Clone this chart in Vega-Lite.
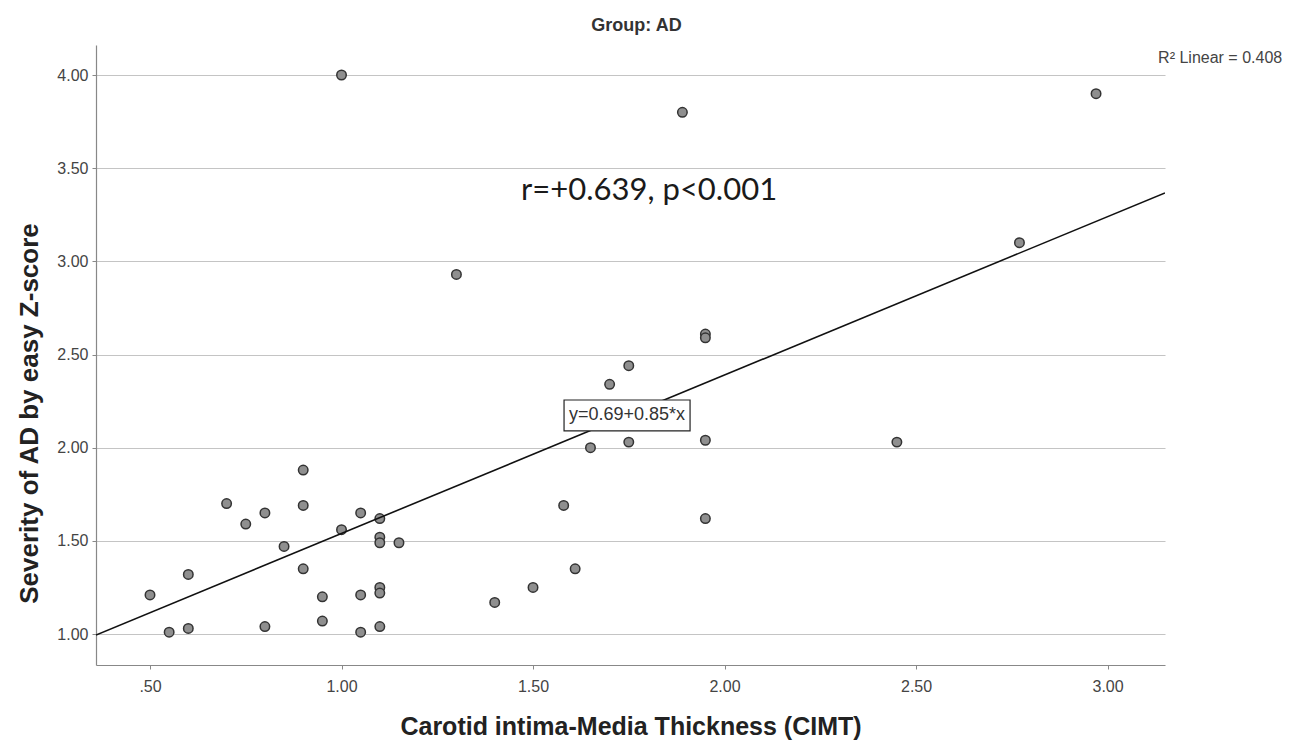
{
  "$schema": "https://vega.github.io/schema/vega-lite/v6.json",
  "width": 1069,
  "height": 620,
  "autosize": {"type": "none"},
  "padding": {"left": 96, "top": 45, "right": 127, "bottom": 77},
  "background": "white",
  "config": {
    "view": {"stroke": null},
    "font": "Liberation Sans"
  },
  "title": {
    "text": "Group: AD",
    "font": "Liberation Sans",
    "fontSize": 18,
    "fontWeight": "bold",
    "color": "#333333",
    "anchor": "middle",
    "dx": 6,
    "offset": 10
  },
  "datasets": {
    "points": [
      {"cimt": 1.00, "severity": 4.00},
      {"cimt": 2.97, "severity": 3.90},
      {"cimt": 1.89, "severity": 3.80},
      {"cimt": 2.77, "severity": 3.10},
      {"cimt": 1.30, "severity": 2.93},
      {"cimt": 1.95, "severity": 2.61},
      {"cimt": 1.95, "severity": 2.59},
      {"cimt": 1.75, "severity": 2.44},
      {"cimt": 1.70, "severity": 2.34},
      {"cimt": 1.65, "severity": 2.00},
      {"cimt": 1.75, "severity": 2.03},
      {"cimt": 1.95, "severity": 2.04},
      {"cimt": 2.45, "severity": 2.03},
      {"cimt": 1.95, "severity": 1.62},
      {"cimt": 1.58, "severity": 1.69},
      {"cimt": 1.61, "severity": 1.35},
      {"cimt": 1.50, "severity": 1.25},
      {"cimt": 1.40, "severity": 1.17},
      {"cimt": 0.90, "severity": 1.88},
      {"cimt": 0.70, "severity": 1.70},
      {"cimt": 0.90, "severity": 1.69},
      {"cimt": 0.80, "severity": 1.65},
      {"cimt": 1.05, "severity": 1.65},
      {"cimt": 0.75, "severity": 1.59},
      {"cimt": 1.10, "severity": 1.62},
      {"cimt": 1.00, "severity": 1.56},
      {"cimt": 0.85, "severity": 1.47},
      {"cimt": 1.10, "severity": 1.52},
      {"cimt": 1.10, "severity": 1.49},
      {"cimt": 1.15, "severity": 1.49},
      {"cimt": 0.90, "severity": 1.35},
      {"cimt": 0.60, "severity": 1.32},
      {"cimt": 0.50, "severity": 1.21},
      {"cimt": 0.95, "severity": 1.20},
      {"cimt": 1.05, "severity": 1.21},
      {"cimt": 1.10, "severity": 1.25},
      {"cimt": 1.10, "severity": 1.22},
      {"cimt": 0.55, "severity": 1.01},
      {"cimt": 0.60, "severity": 1.03},
      {"cimt": 0.80, "severity": 1.04},
      {"cimt": 0.95, "severity": 1.07},
      {"cimt": 1.05, "severity": 1.01},
      {"cimt": 1.10, "severity": 1.04}
    ],
    "fit": [
      {"cimt": 0.359, "severity": 0.995},
      {"cimt": 3.15, "severity": 3.3675}
    ],
    "eqbox": [
      {"x1": 1.581, "x2": 1.910, "y1": 2.090, "y2": 2.256, "xc": 1.7455, "yc": 2.173, "label": "y=0.69+0.85*x"}
    ],
    "notes": [
      {"xn": 1.803, "yn": 3.33, "label": "r=+0.639, p<0.001"}
    ],
    "r2": [
      {"xn": 3.132, "yn": 4.092, "label": "R² Linear = 0.408"}
    ]
  },
  "layer": [
    {
      "data": {"name": "points"},
      "mark": {"type": "point", "shape": "circle", "filled": true, "size": 90, "fill": "#8f8f8f", "stroke": "#333333", "strokeWidth": 1.5, "opacity": 1},
      "encoding": {
        "x": {
          "field": "cimt", "type": "quantitative",
          "scale": {"domain": [0.359, 3.15], "nice": false, "zero": false},
          "axis": {
            "title": "Carotid intima-Media Thickness (CIMT)",
            "titleFont": "Liberation Sans", "titleFontSize": 25, "titleFontWeight": "bold", "titleColor": "#222222",
            "titleBaseline": "alphabetic", "titleY": 69,
            "values": [0.5, 1, 1.5, 2, 2.5, 3],
            "labelExpr": "datum.value < 1 ? replace(format(datum.value, '.2f'), '0.', '.') : format(datum.value, '.2f')",
            "labelFont": "Liberation Sans", "labelFontSize": 16, "labelColor": "#444444",
            "labelPadding": 9, "tickSize": 4, "tickColor": "#888888",
            "domainColor": "#888888", "domainWidth": 1.2,
            "grid": false
          }
        },
        "y": {
          "field": "severity", "type": "quantitative",
          "scale": {"domain": [0.834, 4.161], "nice": false, "zero": false},
          "axis": {
            "title": "Severity of AD by easy Z-score",
            "titleFont": "Liberation Sans", "titleFontSize": 26, "titleFontWeight": "bold", "titleColor": "#222222",
            "titleBaseline": "middle", "titleX": -67, "titleY": 368,
            "values": [1, 1.5, 2, 2.5, 3, 3.5, 4],
            "format": ".2f",
            "labelFont": "Liberation Sans", "labelFontSize": 16, "labelColor": "#444444",
            "labelPadding": 4, "tickSize": 4, "tickColor": "#888888",
            "domainColor": "#888888", "domainWidth": 1.2,
            "grid": true, "gridColor": "#c4c4c4", "gridWidth": 1.2
          }
        }
      }
    },
    {
      "data": {"name": "fit"},
      "mark": {"type": "line", "color": "#111111", "strokeWidth": 1.6, "clip": true},
      "encoding": {
        "x": {"field": "cimt", "type": "quantitative"},
        "y": {"field": "severity", "type": "quantitative"}
      }
    },
    {
      "data": {"name": "eqbox"},
      "mark": {"type": "rect", "fill": "white", "stroke": "#222222", "strokeWidth": 1.2},
      "encoding": {
        "x": {"field": "x1", "type": "quantitative"},
        "x2": {"field": "x2"},
        "y": {"field": "y1", "type": "quantitative"},
        "y2": {"field": "y2"}
      }
    },
    {
      "data": {"name": "eqbox"},
      "mark": {"type": "text", "font": "Liberation Sans", "fontSize": 18, "color": "#333333", "align": "center", "baseline": "middle"},
      "encoding": {
        "x": {"field": "xc", "type": "quantitative"},
        "y": {"field": "yc", "type": "quantitative"},
        "text": {"field": "label"}
      }
    },
    {
      "data": {"name": "notes"},
      "mark": {"type": "text", "font": "Lato", "fontSize": 31, "color": "#1a1a1a", "align": "center", "baseline": "alphabetic"},
      "encoding": {
        "x": {"field": "xn", "type": "quantitative"},
        "y": {"field": "yn", "type": "quantitative"},
        "text": {"field": "label"}
      }
    },
    {
      "data": {"name": "r2"},
      "mark": {"type": "text", "font": "Liberation Sans", "fontSize": 16, "color": "#444444", "align": "left", "baseline": "middle"},
      "encoding": {
        "x": {"field": "xn", "type": "quantitative"},
        "y": {"field": "yn", "type": "quantitative"},
        "text": {"field": "label"}
      }
    }
  ]
}
